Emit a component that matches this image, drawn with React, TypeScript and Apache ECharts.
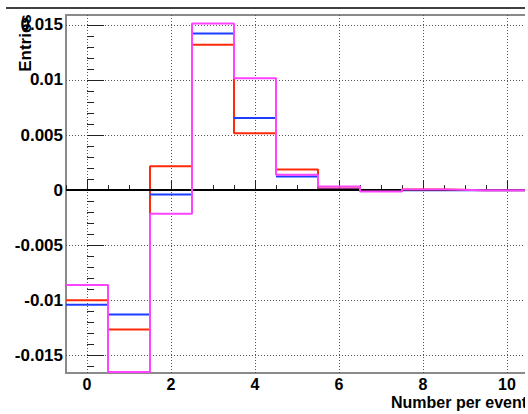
import React, { useEffect, useRef } from "react";
import * as echarts from "echarts";

// bin centres (bin width 1, edges at ±0.5)
const binCenters = [0, 1, 2, 3, 4, 5, 6, 7, 8, 9, 10];
const redValues = [-0.0100, -0.01265, 0.00218, 0.01319, 0.00517, 0.00188, 0.00014, -0.00008, 0.00006, 0, 0];
const blueValues = [-0.01041, -0.01128, -0.00039, 0.01422, 0.00656, 0.00124, 0.00005, -0.00003, 0, 0, 0];
const magentaValues = [-0.00862, -0.0165, -0.00215, 0.01513, 0.01016, 0.00139, 0.00034, -0.00012, 0.00006, 0, 0];
const xMajorTicks = [0, 2, 4, 6, 8, 10];
const xMinorTicks = [-0.5, 0.5, 1, 1.5, 2.5, 3, 3.5, 4.5, 5, 5.5, 6.5, 7, 7.5, 8.5, 9, 9.5, 10.5];
const yMajorTicks = [-0.015, -0.01, -0.005, 0, 0.005, 0.01, 0.015];
const yMinorTicks = [
  -0.016, -0.014, -0.013, -0.012, -0.011, -0.009, -0.008, -0.007, -0.006,
  -0.004, -0.003, -0.002, -0.001, 0.001, 0.002, 0.003, 0.004, 0.006, 0.007,
  0.008, 0.009, 0.011, 0.012, 0.013, 0.014,
];
const yLabels = ["-0.015", "-0.01", "-0.005", "0", "0.005", "0.01", "0.015"];
const xTitle = "Number per event";
const yTitle = "Entries";

const FONT = "'Liberation Sans', Arial, sans-serif";

function outline(vals: number[]) {
  const pts: [number, number][] = [];
  binCenters.forEach((c, i) => {
    pts.push([c - 0.5, vals[i]]);
    pts.push([c + 0.5, vals[i]]);
  });
  return pts;
}

export default function App() {
  const ref = useRef<HTMLDivElement>(null);
  useEffect(() => {
    if (!ref.current) return;
    const chart = echarts.init(ref.current, undefined, { renderer: "svg" });
    const labelFmt = (v: number) => {
      const idx = yMajorTicks.findIndex((t) => Math.abs(t - v) < 1e-9);
      return idx >= 0 ? yLabels[idx] : "";
    };
    chart.setOption({
      animation: false,
      backgroundColor: "#ffffff",
      grid: {
        left: 66,
        top: 15,
        right: 0,
        bottom: 41,
        show: true,
        borderColor: "#8a8a8a",
        borderWidth: 2,
        backgroundColor: "transparent",
      },
      xAxis: [
        {
          type: "value",
          min: -0.5,
          max: 10.5,
          axisLine: { show: false },
          axisTick: {
            show: true,
            inside: true,
            length: 10,
            customValues: xMajorTicks,
            lineStyle: { color: "#222", width: 1 },
          },
          axisLabel: {
            customValues: xMajorTicks,
            fontFamily: FONT,
            fontWeight: "bold",
            fontSize: 16,
            color: "#000",
            margin: 3,
            showMinLabel: true,
            showMaxLabel: true,
          },
          splitLine: {
            show: true,
            lineStyle: { color: "#555", type: [1, 2], width: 1 },
          },
        },
        {
          type: "value",
          min: -0.5,
          max: 10.5,
          position: "bottom",
          axisLine: { show: false },
          axisTick: {
            show: true,
            inside: true,
            length: 5,
            customValues: xMinorTicks,
            lineStyle: { color: "#222", width: 1 },
          },
          axisLabel: { show: false },
          splitLine: { show: false },
        },
      ],
      yAxis: [
        {
          type: "value",
          min: -0.0166,
          max: 0.0159,
          axisLine: { show: false },
          axisTick: {
            show: true,
            inside: true,
            length: 17,
            customValues: yMajorTicks,
            lineStyle: { color: "#222", width: 1 },
          },
          axisLabel: {
            customValues: yMajorTicks,
            formatter: labelFmt,
            fontFamily: FONT,
            fontWeight: "bold",
            fontSize: 17,
            color: "#000",
            margin: 3,
          },
          splitLine: {
            show: true,
            lineStyle: { color: "#555", type: [1, 2], width: 1 },
          },
        },
        {
          type: "value",
          min: -0.0166,
          max: 0.0159,
          position: "left",
          axisLine: { show: false },
          axisTick: {
            show: true,
            inside: true,
            length: 7,
            customValues: yMinorTicks,
            lineStyle: { color: "#222", width: 1 },
          },
          axisLabel: { show: false },
          splitLine: { show: false },
        },
      ],
      series: [
        {
          type: "line",
          data: outline(redValues),
          symbol: "none",
          lineStyle: { color: "#ff2a0a", width: 2 },
          z: 3,
          markLine: {
            silent: true,
            symbol: "none",
            label: { show: false },
            lineStyle: { color: "#000", width: 2, type: "solid" },
            data: [{ yAxis: 0 }],
          },
        },
        {
          type: "custom",
          renderItem: (params: any, api: any) => {
            const c = api.value(0);
            const v = api.value(1);
            const p1 = api.coord([c - 0.5, v]);
            const p2 = api.coord([c + 0.5, v]);
            return {
              type: "line",
              shape: { x1: p1[0], y1: p1[1], x2: p2[0], y2: p2[1] },
              style: { stroke: "#1e3cff", lineWidth: 2 },
            };
          },
          data: binCenters.map((c, i) => [c, blueValues[i]]),
          z: 4,
        },
        {
          type: "line",
          data: outline(magentaValues),
          symbol: "none",
          lineStyle: { color: "#ff44ff", width: 2 },
          z: 5,
        },
      ],
      graphic: [
        {
          type: "line",
          shape: { x1: 6, y1: 8, x2: 525, y2: 8 },
          style: { stroke: "#000", lineWidth: 1.5 },
        },
        {
          type: "text",
          x: 25,
          y: 43,
          rotation: Math.PI / 2,
          style: {
            text: yTitle,
            fontFamily: FONT,
            fontWeight: "bold",
            fontSize: 17,
            fill: "#000",
            align: "center",
            verticalAlign: "middle",
          },
          z: 10,
        },
        {
          type: "text",
          x: 391,
          y: 402,
          style: {
            text: xTitle,
            fontFamily: FONT,
            fontWeight: "bold",
            fontSize: 16,
            fill: "#000",
            align: "left",
            verticalAlign: "middle",
          },
        },
        {
          type: "rect",
          shape: { x: 525, y: 0, width: 3, height: 414 },
          style: { fill: "#ffffff" },
          z: 100,
        },
      ],
    });
    return () => chart.dispose();
  }, []);
  return <div ref={ref} style={{ width: 528, height: 414, position: "absolute", left: 0, top: 0 }} />;
}
